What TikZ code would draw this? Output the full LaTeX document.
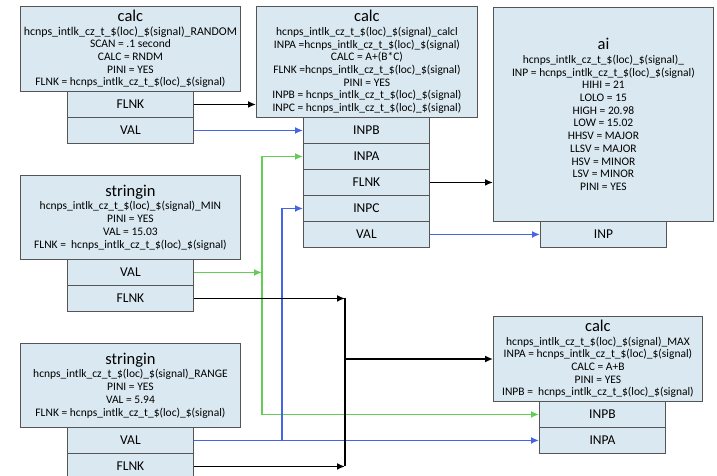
\documentclass[tikz,border=0pt]{standalone}
\usepackage{fontspec}
\setmainfont{Carlito}
\usetikzlibrary{arrows.meta,positioning}

\definecolor{recfill}{RGB}{218,233,241}
\definecolor{recline}{RGB}{85,85,85}
\definecolor{lnkblue}{RGB}{70,100,230}
\definecolor{lnkgreen}{RGB}{100,205,85}
\newcommand{\rectitle}[1]{{\fontsize{16.5}{18}\selectfont #1}\\[1pt]}
\newcommand{\pvname}{hcnps\_intlk\_cz\_t\_\$(loc)\_\$(signal)}

\begin{document}
\begin{tikzpicture}[x=1pt, y=-1pt, >={Latex[length=8pt,width=7pt]},
  rec/.style={draw=recline, fill=recfill, line width=0.9pt, inner sep=0pt, anchor=north west,
    align=center, font=\fontsize{11.5}{12.7}\selectfont},
  port/.style={rec, minimum width=126pt, minimum height=26pt, font=\fontsize{13.5}{15}\selectfont},
  blk/.style={line width=1.6pt, ->},
  blu/.style={draw=lnkblue, line width=1.5pt, ->},
  grn/.style={draw=lnkgreen, line width=1.5pt, ->}]
  \useasboundingbox (0,0) rectangle (717,476);

  % calc RANDOM
  \node[rec, minimum width=220pt, minimum height=85pt] (rnd) at (20,6) {\rectitle{calc}
    {\fontsize{11.9}{12.7}\selectfont\pvname\_RANDOM}\\ SCAN = .1 second\\ CALC = RNDM\\ PINI = YES\\ FLNK = \pvname};
  \foreach \t [count=\i] in {FLNK,VAL}
    \node[port] (rnd\t) at (67,91+26*\i-26) {\t};

  % calc calcl
  \node[rec, minimum width=221pt, minimum height=111pt] (cl) at (256,6) {\rectitle{calc}
    \pvname\_calcl\\ INPA =\pvname\\ CALC = A+(B*C)\\ FLNK =\pvname\\ PINI = YES\\
    INPB = \pvname\\ INPC = \pvname};
  \foreach \t [count=\i] in {INPB,INPA,FLNK,INPC,VAL}
    \node[port] (cl\t) at (303,117+26*\i-26) {\t};

  % ai
  \node[rec, minimum width=220pt, minimum height=214pt] (ai) at (493,7) {\rectitle{ai}
    \pvname\_\\ INP = \pvname\\ HIHI = 21\\ LOLO = 15\\ HIGH = 20.98\\ LOW = 15.02\\
    HHSV = MAJOR\\ LLSV = MAJOR\\ HSV = MINOR\\ LSV = MINOR\\ PINI = YES};
  \node[port] (aiINP) at (540,221) {INP};

  % stringin MIN
  \node[rec, minimum width=220pt, minimum height=84pt] (mn) at (20,175) {\rectitle{stringin}
    \pvname\_MIN\\ PINI = YES\\ VAL = 15.03\\ FLNK = \ \pvname};
  \foreach \t [count=\i] in {VAL,FLNK}
    \node[port] (mn\t) at (67,259+26*\i-26) {\t};

  % calc MAX
  \node[rec, minimum width=209pt, minimum height=85pt] (mx) at (493,316) {\rectitle{calc}
    \pvname\_MAX\\ INPA = \pvname\\ CALC = A+B\\ PINI = YES\\ INPB = \ \pvname};
  \foreach \t [count=\i] in {INPB,INPA}
    \node[port] (mx\t) at (539,401+26*\i-26) {\t};

  % stringin RANGE
  \node[rec, minimum width=220pt, minimum height=84pt] (rg) at (20,343) {\rectitle{stringin}
    \pvname\_RANGE\\ PINI = YES\\ VAL = 5.94\\ FLNK = \pvname};
  \foreach \t [count=\i] in {VAL,FLNK}
    \node[port] (rg\t) at (67,427+26*\i-26) {\t};

  % junctions
  \coordinate (gj) at (262,272);
  \coordinate (bj) at (282,440);
  \coordinate (kj) at (345,359);

  % links
  \draw[blk] (rndFLNK.east) -- (rndFLNK.east -| cl.west);
  \draw[blu] (rndVAL.east) -- (clINPB.west);
  \draw[blk] (clFLNK.east) -- (clFLNK.east -| ai.west);
  \draw[blu] (clVAL.east) -- (aiINP.west);

  \draw[grn] (mnVAL.east) -- (mnVAL.east -| gj);
  \draw[grn, <->] (clINPA.west) -| (gj) |- (mxINPB.west);

  \draw[blu] (rgVAL.east) -- (mxINPA.west);
  \draw[blu] (bj) |- (clINPC.west);

  \draw[blk] (mnFLNK.east) -- (mnFLNK.east -| kj);
  \draw[blk] (rgFLNK.east) -- (rgFLNK.east -| kj);
  \draw[line width=1.6pt] (mnFLNK.east -| kj) -- (rgFLNK.east -| kj);
  \draw[blk] (kj) -- (kj -| mx.west);
\end{tikzpicture}
\end{document}
